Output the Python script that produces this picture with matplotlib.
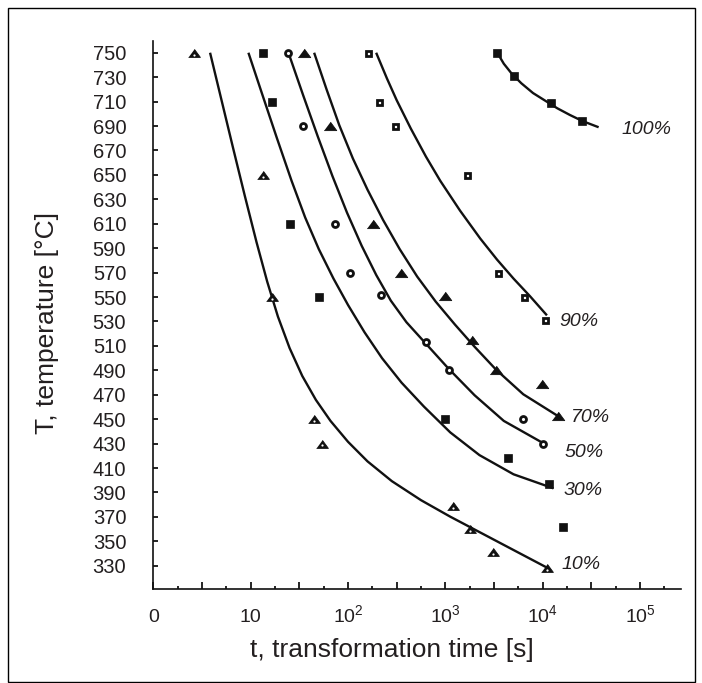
import numpy as np
import matplotlib.pyplot as plt
from matplotlib.ticker import FixedLocator, FixedFormatter, NullFormatter
from matplotlib.patches import Rectangle

plt.rcParams['font.family'] = ['Liberation Sans', 'DejaVu Sans']
plt.rcParams['mathtext.fontset'] = 'custom'
plt.rcParams['mathtext.rm'] = 'Liberation Sans'

INK = '#231f20'

# times are stored as log10(t [s]), temperatures in degC
# fitted curves (fraction transformed)
curve_10_lg = [0.583, 0.70, 0.82, 0.94, 1.06, 1.17, 1.28, 1.40, 1.53, 1.67, 1.82, 2.0, 2.2, 2.45, 2.75, 3.05, 3.35, 3.7, 4.06]
curve_10_T = [750, 711.4, 671.8, 632.8, 595, 562.6, 534, 508.2, 485.4, 465.8, 448.6, 431.5, 415.5, 399.3, 383.7, 370.2, 357.6, 342.9, 327.8]

curve_30_lg = [0.977, 1.12, 1.27, 1.42, 1.56, 1.70, 1.85, 2.0, 2.17, 2.35, 2.55, 2.78, 3.05, 3.35, 3.7, 4.11]
curve_30_T = [750, 715.7, 680, 645.2, 615.1, 589.2, 565.2, 543.5, 521.1, 499.9, 479.9, 460.3, 439.2, 420.6, 404.9, 393.4]

curve_50_lg = [1.388, 1.54, 1.69, 1.84, 1.99, 2.14, 2.29, 2.44, 2.6, 2.8, 3.03, 3.3, 3.6, 4.0]
curve_50_T = [750, 715, 681.3, 649, 619, 592, 568, 547, 529.4, 511.8, 491.6, 469.6, 448.6, 430.6]

curve_70_lg = [1.652, 1.78, 1.91, 2.05, 2.2, 2.36, 2.53, 2.71, 2.9, 3.1, 3.3, 3.52, 3.8, 4.162]
curve_70_T = [750, 719.9, 690.7, 663.4, 637.9, 613.1, 589.3, 566.8, 546.3, 527.3, 509.3, 490.6, 470.4, 452.3]

curve_90_lg = [2.289, 2.40, 2.50, 2.645, 2.80, 2.947, 3.15, 3.358, 3.53, 3.70, 3.87, 4.043]
curve_90_T = [750, 728.9, 711.1, 687.9, 665, 645.2, 620.8, 597.9, 580.7, 565.1, 550.6, 535]

curve_100_lg = [3.533, 3.60, 3.68, 3.78, 3.90, 4.02, 4.15, 4.28, 4.41, 4.574]
curve_100_T = [750, 741, 733, 725, 717, 711, 704.5, 699, 694, 689]

# measured points
pts_10_lg = [0.42, 1.124, 1.217, 1.652, 1.737, 3.077, 3.255, 3.494, 4.046]
pts_10_T = [750, 650, 550, 450, 430, 379, 360, 341, 328]

pts_30_lg = [1.131, 1.223, 1.408, 1.703, 2.998, 3.645, 4.06, 4.203]
pts_30_T = [750, 710, 610, 550, 450, 418, 397, 362]

pts_50_lg = [1.388, 1.542, 1.870, 2.02, 2.337, 2.80, 3.032, 3.796, 4.002]
pts_50_T = [750, 690, 610, 570, 552, 513, 490, 450, 430]

pts_70_lg = [1.549, 1.816, 2.255, 2.54, 3.0, 3.275, 3.522, 3.995, 4.152]
pts_70_T = [750, 690, 610, 570, 551, 515, 490, 479, 453]

pts_90_lg = [2.203, 2.32, 2.487, 3.218, 3.543, 3.81, 4.026]
pts_90_T = [750, 710, 690, 650, 570, 550, 531]

pts_100_lg = [3.533, 3.70, 4.084, 4.406]
pts_100_T = [750, 731, 709, 694]

labels = ['10%', '30%', '50%', '70%', '90%', '100%']
label_lg = [4.197, 4.214, 4.224, 4.293, 4.173, 4.814]
label_T = [331, 392, 423, 451.5, 530, 687]

y_ticks = list(range(330, 751, 20))
x_tick_labels = ['0', '10', r'$\mathregular{10^2}$', r'$\mathregular{10^3}$',
                 r'$\mathregular{10^4}$', r'$\mathregular{10^5}$']


def t(lg):
    return np.power(10.0, np.asarray(lg, dtype=float))


fig = plt.figure(figsize=(7.02, 6.83), dpi=100)
fig.patches.append(Rectangle((8 / 702, 0.002), 687 / 702, 674 / 683, transform=fig.transFigure,
                             fill=False, edgecolor='black', linewidth=1.0))
ax = fig.add_axes([153.3 / 702, 1 - 589 / 683, (681 - 153.3) / 702, (589 - 41) / 683])

for lg, T in [(curve_10_lg, curve_10_T), (curve_30_lg, curve_30_T), (curve_50_lg, curve_50_T),
              (curve_70_lg, curve_70_T), (curve_90_lg, curve_90_T), (curve_100_lg, curve_100_T)]:
    ax.plot(t(lg), T, color='#111111', lw=1.7, solid_capstyle='butt', solid_joinstyle='round', zorder=2)

tri = [(-1, -0.66), (1, -0.66), (0, 0.70)]
# 10 %: triangles with a small hole
ax.plot(t(pts_10_lg), pts_10_T, ls='none', marker=tri, ms=8.5, mfc='#111111', mec='#111111', mew=0.6, zorder=3)
ax.plot(t(pts_10_lg), np.asarray(pts_10_T) - 1.5, ls='none', marker='o', ms=1.6, mfc='white', mec='none', zorder=4)
# 30 %: solid squares
ax.plot(t(pts_30_lg), pts_30_T, ls='none', marker='s', ms=6.2, mfc='#111111', mec='#111111', mew=0.5, zorder=3)
# 50 %: rings
ax.plot(t(pts_50_lg), pts_50_T, ls='none', marker='o', ms=4.3, mfc='white', mec='#111111', mew=2.0, zorder=3)
# 70 %: solid triangles
ax.plot(t(pts_70_lg), pts_70_T, ls='none', marker=tri, ms=9, mfc='#111111', mec='#111111', mew=0.6, zorder=3)
# 90 %: hollow squares
ax.plot(t(pts_90_lg), pts_90_T, ls='none', marker='s', ms=3.6, mfc='white', mec='#111111', mew=2.0, zorder=3)
# 100 %: solid squares
ax.plot(t(pts_100_lg), pts_100_T, ls='none', marker='s', ms=6.4, mfc='#111111', mec='#111111', mew=0.5, zorder=3)

for s, lg, T in zip(labels, label_lg, label_T):
    ax.text(t(lg), T, s, fontsize=14, style='italic', color=INK, ha='left', va='center')

ax.set_xscale('log')
ax.set_xlim(1, 10 ** 5.42)
ax.set_ylim(311, 759.6)

ax.xaxis.set_major_locator(FixedLocator(t(np.arange(0, 11) / 2)))
ax.xaxis.set_major_formatter(FixedFormatter([x_tick_labels[k // 2] if k % 2 == 0 else '' for k in range(11)]))
ax.xaxis.set_minor_locator(FixedLocator(t((np.arange(0, 11) * 2 + 1) / 4)))
ax.xaxis.set_minor_formatter(NullFormatter())
ax.set_yticks(y_ticks)

ax.tick_params(axis='x', which='major', direction='in', length=5, width=1.2, pad=23.5,
               labelsize=14, labelcolor=INK)
ax.tick_params(axis='x', which='minor', direction='in', length=2.5, width=1.2)
ax.tick_params(axis='y', direction='in', length=3.5, width=1.2, pad=19.5, labelsize=14.5, labelcolor=INK)
for lab in ax.get_xticklabels():
    lab.set_verticalalignment('baseline')

for side in ['top', 'right']:
    ax.spines[side].set_visible(False)
for side in ['left', 'bottom']:
    ax.spines[side].set_linewidth(1.2)
    ax.spines[side].set_color('#111111')

ax.set_xlabel('t, transformation time [s]', fontsize=19, color=INK)
ax.set_ylabel('T, temperature [°C]', fontsize=19, color=INK)
ax.xaxis.set_label_coords(0.452, -0.089)
ax.yaxis.set_label_coords(-0.179, 0.485)

fig.savefig('out.png', dpi=100)
